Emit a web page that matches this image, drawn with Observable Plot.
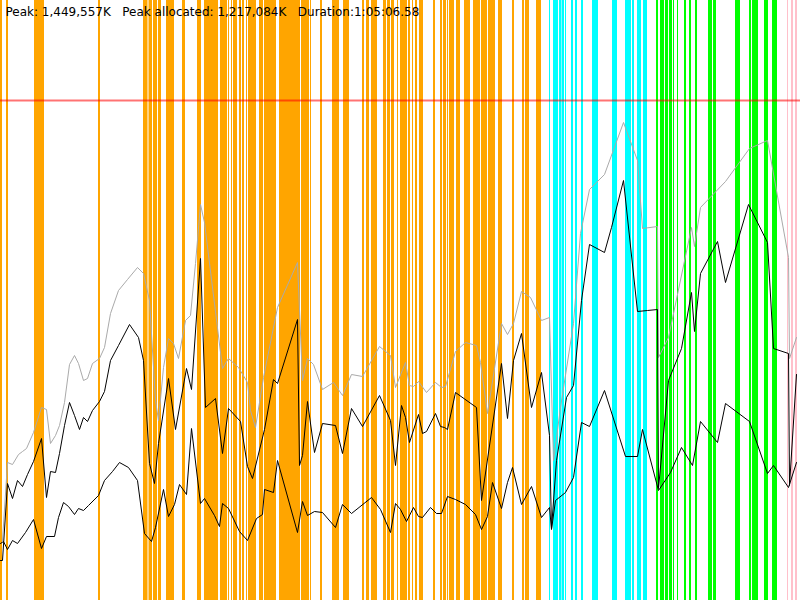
<!DOCTYPE html>
<html>
<head>
<meta charset="utf-8">
<script src="https://cdn.jsdelivr.net/npm/d3@7"></script>
<script src="https://cdn.jsdelivr.net/npm/@observablehq/plot@0.6"></script>
<style>
  html, body { margin: 0; padding: 0; background: #fff; }
  #chart svg { display: block; }
</style>
</head>
<body>
<div id="chart"></div>
<script>
// Title values
const titleText = "Peak: 1,449,557K\u00a0\u00a0\u00a0Peak allocated: 1,217,084K\u00a0\u00a0\u00a0Duration:1:05:06.58";

// Time axis (chart units, 0..800) and memory (chart units, 0..600; peak = 500)
const peakValue = 500;

// GC event spans [start, end]
const orangeSpans = [[0,2],[6,8],[34,44],[98,100],[143,147],[147.5,148.5],[149,152],[153,157],[158,161],[166,174],[182,185],[197,201],[204,218],[220,227],[228,229],[231,232],[233,237],[239,241],[242,244],[246,247],[248,256],[259,263],[264,276],[279,300],[301,309],[310,311],[320,322],[332,339],[343,349],[362,364],[366,369],[371,377],[383,386],[387,390],[391,394],[397,398],[400,407],[408,410],[412,413],[415,417],[419,423],[433,435],[440,442],[443,446],[447,448],[449,454],[456,460],[464,470],[473,480],[481,487],[488,495],[498,502],[512,514],[522,524],[525,529],[536,541]];
const cyanSpans = [[549,550],[553,558],[559,561.5],[562,564],[565,566],[571,573],[575,577],[581,583],[592,598],[612,617],[625,631],[632,634],[637,641],[643,647]];
const greenSpans = [[656,658],[660,664],[665,668],[669,672],[673,674],[677,678],[684,686],[689,691],[695,697],[708,712],[713,716],[735,740],[749,751],[752,758],[764,768],[772,777]];
const pinkSpans = [[787,788],[791,793],[795,797]];
const kinds = ["phaseA", "phaseB", "phaseC", "phaseD"];
const kindColors = ["#ffa500", "#00ffff", "#00ff00", "#ffc0cb"];

// Peak (committed) series - grey
const grayT = [2,7,12,18,22,26,33,41,46,50,55,59,64,69,74,78,83,87,92,99,104,110,118,127,137,143,149,155,158,163,168,173,178,185,190,195,200,204,222,228,238,247,250,255,263,277,297,302,307,313,322,333,342,351,362,379,390,395,405,409,413,418,426,435,441,445,455,465,476,480,487,501,507,513,521,530,541,549,553,560,573,580,589,604,623,637,642,657,658,668,691,694,700,725,749,767,788,789,796];
const grayV = [60,138,136,146,149,152,168,193,191,157,165,175,198,236,245,237,220,222,237,242,253,287,310,321,333,327,300,200,180,233,262,257,242,280,285,337,396,378,232,242,233,218,190,173,223,293,338,220,242,236,211,218,205,226,224,254,245,213,238,215,214,219,208,218,213,214,249,258,255,238,187,277,266,277,309,303,280,283,140,193,277,367,411,426,478,440,372,374,243,263,373,354,393,419,452,460,343,242,263];

// Used after GC - upper black
const upperT = [0,2,7,12,17,22,27,33,41,46,50,55,59,64,69,74,79,83,87,92,99,104,110,118,129,138,143,149,154,158,168,175,186,191,200,205,215,222,228,240,247,252,264,273,277,297,299,302,307,314,322,335,342,351,362,379,390,395,401,405,409,418,422,426,435,440,444,447,455,476,481,501,507,513,521,531,541,549,551,556,566,573,581,589,604,611,623,637,647,657,658,668,681,691,694,700,717,725,748,767,773,788,789,796];
const upperV = [40,40,117,102,120,114,126,139,162,103,129,128,147,175,198,185,171,183,179,190,199,209,240,255,276,263,240,137,117,157,222,171,232,211,342,193,202,147,192,179,134,122,171,221,217,281,135,145,199,148,177,175,147,192,174,205,180,135,195,183,158,186,167,169,187,174,173,171,208,193,100,237,182,240,267,193,228,165,72,140,203,215,300,356,348,373,420,289,290,291,112,220,252,308,269,327,359,318,396,358,252,247,115,226];

// Live data - lower black
const lowerT = [0,3,7,12,17,25,33,41,46,54,58,63,68,74,78,83,88,98,104,112,119,128,137,144,151,155,163,168,174,179,186,191,200,204,214,219,222,228,239,247,256,262,264,273,277,297,302,307,314,322,335,342,351,371,380,390,395,400,406,413,418,422,430,436,441,447,455,465,475,481,487,492,501,507,512,521,531,541,549,551,555,565,573,581,589,604,625,637,642,658,670,681,692,700,717,725,749,767,773,788,796];
const lowerV = [57,59,51,60,57,68,81,52,64,64,83,98,94,86,92,90,95,105,120,129,138,133,120,67,59,73,111,84,96,116,106,172,97,102,85,74,97,92,69,60,82,86,111,108,140,68,99,85,89,88,73,96,87,103,91,68,97,91,79,93,84,83,93,87,87,104,101,96,86,71,84,118,92,118,133,96,114,83,93,71,100,108,123,178,174,210,144,144,171,110,128,153,135,179,158,197,179,127,135,113,138];

const spans = [
  ...orangeSpans.map(([a,b]) => ({a, b, kind: kinds[0]})),
  ...cyanSpans.map(([a,b]) => ({a, b, kind: kinds[1]})),
  ...greenSpans.map(([a,b]) => ({a, b, kind: kinds[2]})),
  ...pinkSpans.map(([a,b]) => ({a, b, kind: kinds[3]}))
];
const toPts = (T, V) => T.map((t, i) => ({t, v: V[i]}));
const gray = toPts(grayT, grayV);
const upper = toPts(upperT, upperV);
const lower = toPts(lowerT, lowerV);

const chart = Plot.plot({
  width: 800,
  height: 600,
  margin: 0,
  x: {domain: [0, 800], axis: null},
  y: {domain: [0, 600], axis: null},
  color: {type: "ordinal", domain: kinds, range: kindColors},
  style: {background: "#fff"},
  marks: [
    Plot.rect(spans, {x1: "a", x2: "b", fill: "kind"}),
    Plot.ruleY([peakValue], {stroke: "#ff0000", strokeOpacity: 0.55, strokeWidth: 2}),
    Plot.line(gray, {x: "t", y: "v", stroke: "#aaaaaa", strokeWidth: 1}),
    Plot.line(upper, {x: "t", y: "v", stroke: "#000", strokeWidth: 1}),
    Plot.line(lower, {x: "t", y: "v", stroke: "#000", strokeWidth: 1}),
    Plot.text([titleText], {frameAnchor: "top-left", dx: 5, dy: 7, text: d => d, fontSize: 12, fill: "#000", fontFamily: "DejaVu Sans", textAnchor: "start", lineAnchor: "top"})
  ]
});
document.getElementById("chart").appendChild(chart);
</script>
</body>
</html>
